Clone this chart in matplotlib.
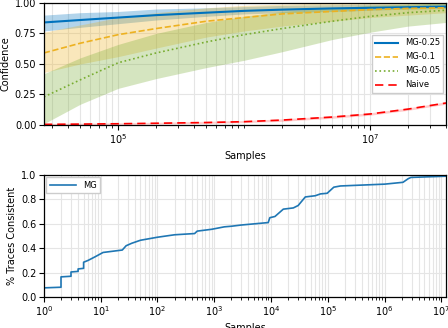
import numpy as np
import matplotlib
matplotlib.use("Agg")
import matplotlib.pyplot as plt
from matplotlib.ticker import LogLocator, FixedLocator, NullFormatter

# top panel: confidence vs samples
samples = [2.57e4, 5e4, 1e5, 2e5, 5e5, 1e6, 2e6, 5e6, 1e7, 2e7, 4e7]

mg25 = [0.84, 0.86, 0.88, 0.90, 0.92, 0.935, 0.945, 0.955, 0.96, 0.965, 0.97]
mg25_lo = [0.77, 0.80, 0.83, 0.86, 0.89, 0.91, 0.92, 0.93, 0.94, 0.95, 0.955]
mg25_hi = [0.90, 0.92, 0.93, 0.95, 0.96, 0.97, 0.98, 0.985, 0.99, 0.99, 0.995]

mg10 = [0.59, 0.67, 0.74, 0.79, 0.85, 0.88, 0.91, 0.93, 0.945, 0.955, 0.96]
mg10_lo = [0.43, 0.50, 0.56, 0.63, 0.72, 0.77, 0.81, 0.85, 0.88, 0.90, 0.92]
mg10_hi = [0.76, 0.82, 0.88, 0.92, 0.96, 0.98, 0.99, 1.0, 1.0, 1.0, 1.0]

mg05 = [0.23, 0.37, 0.51, 0.59, 0.68, 0.74, 0.79, 0.85, 0.89, 0.92, 0.94]
mg05_lo = [0.01, 0.17, 0.30, 0.38, 0.47, 0.53, 0.60, 0.70, 0.76, 0.81, 0.84]
mg05_hi = [0.42, 0.55, 0.66, 0.75, 0.84, 0.89, 0.93, 0.96, 0.98, 0.99, 1.0]

naive = [0.005, 0.007, 0.01, 0.014, 0.02, 0.027, 0.04, 0.065, 0.09, 0.13, 0.18]
naive_lo = [0.0, 0.002, 0.005, 0.008, 0.013, 0.02, 0.03, 0.055, 0.08, 0.12, 0.17]
naive_hi = [0.012, 0.015, 0.018, 0.022, 0.03, 0.037, 0.05, 0.075, 0.10, 0.14, 0.19]

# bottom panel: fraction of traces consistent
trace_samples = [1, 2, 2, 3, 3, 4, 4, 5, 5, 6, 8, 11, 24, 28, 35, 50, 100, 200, 450,
                 500, 900, 1500, 2000, 3000, 8900, 9500, 11700, 16400, 24600, 30000,
                 40000, 60000, 74000, 97000, 127000, 166000, 1e6, 2.1e6, 2.6e6,
                 2.9e6, 1.2e7]
trace_frac = [0.075, 0.08, 0.165, 0.17, 0.205, 0.21, 0.23, 0.235, 0.285, 0.30, 0.33,
              0.365, 0.385, 0.42, 0.44, 0.465, 0.49, 0.51, 0.52, 0.54, 0.555, 0.575,
              0.58, 0.59, 0.61, 0.65, 0.66, 0.72, 0.73, 0.75, 0.82, 0.83, 0.845, 0.85,
              0.90, 0.91, 0.925, 0.94, 0.97, 0.98, 0.99]

plt.rcParams['font.size'] = 7
plt.rcParams['font.family'] = 'DejaVu Sans'

fig = plt.figure(figsize=(4.48, 3.28), dpi=100)
ax1 = fig.add_axes([0.098, 0.619, 0.8975, 0.3721])
ax2 = fig.add_axes([0.098, 0.0945, 0.8975, 0.372])

blue = '#0072BD'
orange = '#EDB120'
green = '#77AC30'
red = '#FF0000'

ax1.fill_between(samples, mg25_lo, mg25_hi, color=blue, alpha=0.3, lw=0)
ax1.fill_between(samples, mg10_lo, mg10_hi, color=orange, alpha=0.3, lw=0)
ax1.fill_between(samples, mg05_lo, mg05_hi, color=green, alpha=0.3, lw=0)
ax1.fill_between(samples, naive_lo, naive_hi, color=red, alpha=0.2, lw=0)
ax1.plot(samples, mg25, color=blue, lw=1.5, ls='-', label='MG-0.25')
ax1.plot(samples, mg10, color=orange, lw=1.2, ls='--', label='MG-0.1')
ax1.plot(samples, mg05, color=green, lw=1.2, ls=':', label='MG-0.05')
ax1.plot(samples, naive, color=red, lw=1.2, ls=(0, (5, 3)), label='Naive')

ax1.set_xscale('log')
ax1.set_xlim(samples[0], samples[-1])
ax1.set_ylim(0, 1)
ax1.xaxis.set_major_locator(FixedLocator([1e5, 1e7]))
ax1.xaxis.set_minor_locator(LogLocator(base=10, subs=np.arange(1, 10), numticks=20))
ax1.xaxis.set_minor_formatter(NullFormatter())
ax1.set_yticks([0, 0.25, 0.5, 0.75, 1.0])
ax1.set_yticklabels(['0.00', '0.25', '0.50', '0.75', '1.00'])
ax1.set_xlabel('Samples', labelpad=3)
ax1.set_ylabel('Confidence', labelpad=3)
ax1.legend(loc='center right', fontsize=6, fancybox=False, framealpha=1,
           edgecolor='#cccccc', handlelength=2.8, borderaxespad=0.3,
           labelspacing=0.6)

ax2.plot(trace_samples, trace_frac, color='#1f77b4', lw=1.2, label='MG')
ax2.set_xscale('log')
ax2.set_xlim(1, 1.2e7)
ax2.set_ylim(0, 1)
ax2.xaxis.set_major_locator(LogLocator(base=10, numticks=20))
ax2.xaxis.set_minor_locator(LogLocator(base=10, subs=np.arange(2, 10), numticks=20))
ax2.xaxis.set_minor_formatter(NullFormatter())
ax2.set_yticks([0, 0.2, 0.4, 0.6, 0.8, 1.0])
ax2.set_xlabel('Samples', labelpad=3)
ax2.set_ylabel('% Traces Consistent', labelpad=3)
ax2.legend(loc='upper left', fontsize=6, fancybox=False, framealpha=1,
           edgecolor='#cccccc', handlelength=3.2, borderaxespad=0.3)

for ax in (ax1, ax2):
    ax.grid(True, which='major', color='#e5e5e5', lw=0.8)
    ax.grid(True, which='minor', axis='x', color='#e5e5e5', lw=0.8)
    ax.set_axisbelow(True)
    for s in ax.spines.values():
        s.set_color('black')
        s.set_linewidth(0.9)
    ax.tick_params(which='major', length=3.5, width=0.8, pad=2)
    ax.tick_params(which='minor', length=2, width=0.6)

fig.savefig('out.png', dpi=100)
